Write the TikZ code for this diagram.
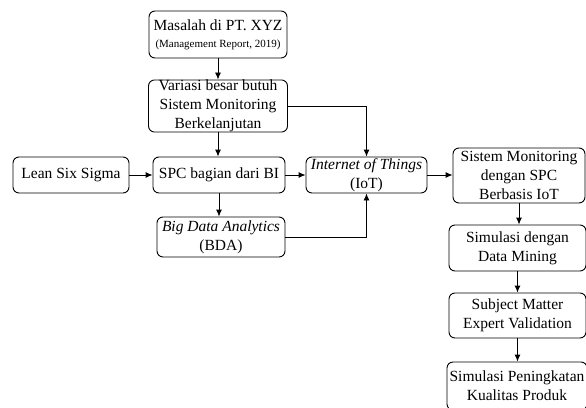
\documentclass[tikz,border=0pt]{standalone}
\usepackage{fontspec}
\setmainfont{Liberation Serif}
\usetikzlibrary{arrows.meta}
\begin{document}
\begin{tikzpicture}[x=1pt,y=-1pt,
 box/.style={draw, rounded corners=6pt, line width=0.9pt, align=center, inner sep=0pt, font=\fontsize{15.5}{19}\selectfont},
 arr/.style={-{Latex[length=7pt,width=6pt]}, line width=0.9pt}]
\useasboundingbox (0,0) rectangle (586,407);
\clip (0,0) rectangle (586,407);
\node[box, minimum width=138pt, minimum height=47pt] (m) at (218,34.5) {Masalah di PT. XYZ\\[-2pt]{\fontsize{11}{13}\selectfont (Management Report, 2019)}};
\node[box, minimum width=139pt, minimum height=52pt] (v) at (218,106) {Variasi besar butuh\\Sistem Monitoring\\Berkelanjutan};
\node[box, minimum width=116pt, minimum height=36pt] (lss) at (71,175) {Lean Six Sigma};
\node[box, minimum width=132pt, minimum height=36pt] (spc) at (219,175) {SPC bagian dari BI};
\node[box, minimum width=128pt, minimum height=40pt] (bda) at (221,237) {\textit{Big Data Analytics}\\(BDA)};
\node[box, minimum width=121pt, minimum height=36pt] (iot) at (366.5,175) {\textit{Internet of Things}\\(IoT)};
\node[box, minimum width=132pt, minimum height=55pt] (sm) at (519,175.5) {Sistem Monitoring\\dengan SPC\\Berbasis IoT};
\node[box, minimum width=137pt, minimum height=46pt] (dm) at (517.5,248) {Simulasi dengan\\Data Mining};
\node[box, minimum width=137pt, minimum height=45pt] (sme) at (517.5,315.5) {Subject Matter\\Expert Validation};
\node[box, minimum width=140pt, minimum height=48pt] (sp) at (517,386) {Simulasi Peningkatan\\Kualitas Produk};
\draw[arr] (m.south) -- (m.south |- v.north);
\draw[arr] (v.south) -- (v.south |- spc.north);
\draw[arr] (lss) -- (spc);
\draw[arr] (spc.south) -- (spc.south |- bda.north);
\draw[arr] (spc) -- (iot);
\draw[arr] (v.east) -- (iot.north |- v.east) -- (iot.north);
\draw[arr] (bda.east) -- (iot.south |- bda.east) -- (iot.south);
\draw[arr] (iot.east) -- (iot.east -| sm.west);
\draw[arr] (sm.south) -- (sm.south |- dm.north);
\draw[arr] (dm.south) -- (dm.south |- sme.north);
\draw[arr] (sme.south) -- (sme.south |- sp.north);
\end{tikzpicture}
\end{document}
